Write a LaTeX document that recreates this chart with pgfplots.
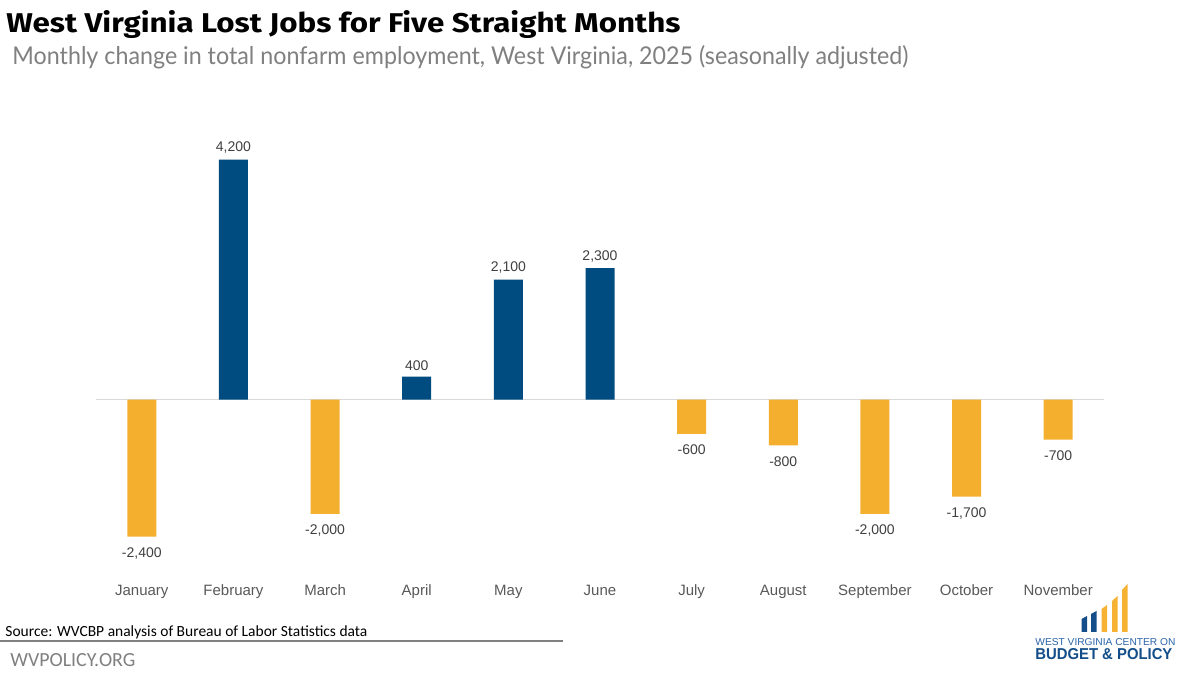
\documentclass[border=0pt]{standalone}
\usepackage{pgfplots}
\pgfplotsset{compat=1.18}
\usepackage{fontspec}
\setmainfont{Liberation Sans}
\newfontfamily\titlefont{Fira Sans}
\newfontfamily\subfont{Lato}
\newfontfamily\srcfont{Carlito}
\definecolor{wvblue}{RGB}{0,75,128}
\definecolor{wvgold}{RGB}{244,175,47}
\definecolor{labgray}{RGB}{89,89,89}
\definecolor{numgray}{RGB}{64,64,64}
\definecolor{subgray}{RGB}{128,128,128}
\definecolor{zerogray}{RGB}{217,217,217}
\definecolor{logoblue}{RGB}{20,78,138}
\definecolor{logotext}{RGB}{40,100,170}
\definecolor{logogold}{RGB}{246,178,51}

\begin{document}
\begin{tikzpicture}[x=0.5pt,y=0.5pt]
\fill[white] (0,0) rectangle (1200,675);
\path[use as bounding box] (0,0) rectangle (1200,675);

% title block
\node[anchor=base west, inner sep=0] at (6,642)
  {\resizebox{337pt}{11pt}{\titlefont\bfseries West Virginia Lost Jobs for Five Straight Months}};
\node[anchor=base west, inner sep=0, text=subgray] at (12,610)
  {\resizebox{448pt}{9.5pt}{\subfont Monthly change in total nonfarm employment, West Virginia, 2025 (seasonally adjusted)}};

\begin{axis}[
  at={(48pt,52pt)}, anchor=south west,
  scale only axis, width=504pt, height=228.6pt,
  xmin=-0.5, xmax=10.5, ymin=-3000, ymax=5000,
  clip=false,
  axis line style={draw=none},
  ytick=\empty,
  xtick={0,...,10},
  xticklabels={January,February,March,April,May,June,July,August,September,October,November},
  xtick style={draw=none},
  xticklabel style={font=\fontsize{7.5}{9}\selectfont, text=labgray, anchor=base, yshift=-8pt},
  extra y ticks={0}, extra y tick labels={},
  extra y tick style={grid=major, major grid style={draw=zerogray, line width=0.6pt}, major tick length=0pt},
  ybar, bar width=14.5pt,
  nodes near coords,
  nodes near coords style={font=\fontsize{7}{8}\selectfont, text=numgray},
  /pgf/number format/1000 sep={,},
  /pgf/number format/assume math mode=true,
]
\addplot[fill=wvblue, draw=none, bar shift=0pt, nodes near coords style={yshift=-0.5pt}]
  coordinates {(1,4200) (3,400) (4,2100) (5,2300)};
\addplot[fill=wvgold, draw=none, bar shift=0pt, nodes near coords style={yshift=-2pt}]
  coordinates {(0,-2400) (2,-2000) (6,-600) (7,-800) (8,-2000) (9,-1700) (10,-700)};
\end{axis}

% source and footer
\node[anchor=base west, inner sep=0] at (5,39)
  {\srcfont\fontsize{7.75}{9}\selectfont Source: WVCBP analysis of Bureau of Labor Statistics data};
\draw[draw=subgray, line width=0.75pt] (0,34) -- (563,34);
\node[anchor=base west, inner sep=0, text=subgray] at (10,9)
  {\resizebox{62.5pt}{6.5pt}{\srcfont WVPOLICY.ORG}};

% logo
\fill[logoblue] (1081.5,43) -- (1087,43) -- (1087,59) -- (1081.5,56) -- cycle;
\fill[logoblue] (1091,43) -- (1096.5,43) -- (1096.5,64) -- (1091,61) -- cycle;
\fill[logogold] (1101.5,43) -- (1107,43) -- (1107,70) -- (1101.5,66) -- cycle;
\fill[logogold] (1112,43) -- (1117.5,43) -- (1117.5,79) -- (1112,74) -- cycle;
\fill[logogold] (1122,43) -- (1127.5,43) -- (1127.5,91) -- (1122,85) -- cycle;
\node[anchor=base west, inner sep=0, text=logotext] at (1035,29.5)
  {\resizebox{70pt}{3.5pt}{WEST VIRGINIA CENTER ON}};
\node[anchor=base west, inner sep=0, text=logoblue] at (1035,16)
  {\resizebox{68.5pt}{5.5pt}{\bfseries BUDGET \& POLICY}};
\end{tikzpicture}
\end{document}
